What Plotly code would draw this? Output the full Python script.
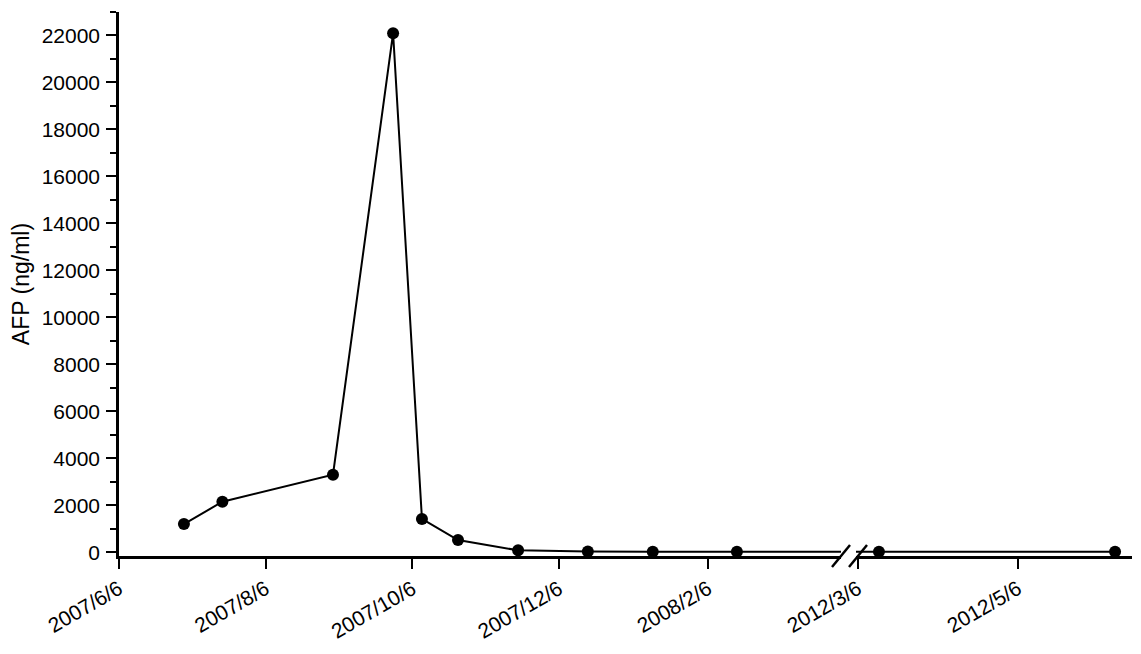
import plotly.graph_objects as go

# Data
dates = ["2007-07-03", "2007-07-19", "2007-09-03", "2007-09-28", "2007-10-10",
         "2007-10-25", "2007-11-19", "2007-12-18", "2008-01-14", "2008-02-18",
         "2012-03-14", "2012-06-12"]
afp = [1200, 2150, 3300, 22100, 1420, 520, 80, 30, 20, 25, 20, 20]

seg1_tickvals = ["2007-06-06", "2007-08-06", "2007-10-06", "2007-12-06", "2008-02-06"]
seg1_ticktext = ["2007/6/6", "2007/8/6", "2007/10/6", "2007/12/6", "2008/2/6"]
seg2_tickvals = ["2012-03-06", "2012-05-06"]
seg2_ticktext = ["2012/3/6", "2012/5/6"]
y_tickvals = list(range(0, 22001, 2000))
y_ticktext = [str(v) for v in y_tickvals]

FONT = "Arial, 'Liberation Sans', sans-serif"
# page has an 8px body margin; compensate so the plot area lands at
# page x 119..1132, y 12..556
OFF = 8
W, H = 1141 - OFF, 654 - OFF
L, R, T, B = 119 - OFF, 9, 12 - OFF, 98
plot_w = W - L - R
plot_h = H - T - B
PLOT_LEFT = 119   # page px
PLOT_BOTTOM = 556  # page px


def px_to_paper(px):
    return (px - PLOT_LEFT) / plot_w


def py_to_paper(py):
    return (PLOT_BOTTOM - py) / plot_h


d1_end = px_to_paper(841)
d2_start = px_to_paper(856)

line = dict(color="black", width=2)
marker = dict(color="black", size=12)

fig = go.Figure()
fig.add_trace(go.Scatter(x=dates, y=afp, mode="lines+markers", line=line,
                         marker=marker, xaxis="x", yaxis="y", showlegend=False))
fig.add_trace(go.Scatter(x=dates, y=afp, mode="lines+markers", line=line,
                         marker=marker, xaxis="x2", yaxis="y", showlegend=False))

axis_common = dict(
    type="date", showline=True, linecolor="black", linewidth=2.5,
    ticks="outside", ticklen=10, tickwidth=2, tickcolor="black",
    showgrid=False, zeroline=False, tickangle=-30, automargin=False,
    tickfont=dict(family=FONT, size=21, color="black"),
)

fig.update_layout(
    width=W, height=H,
    margin=dict(l=L, r=R, t=T, b=B),
    paper_bgcolor="white", plot_bgcolor="white",
    xaxis=dict(domain=[0, d1_end], range=["2007-06-06", "2008-04-01 07:00"],
               tickmode="array", tickvals=seg1_tickvals, ticktext=seg1_ticktext,
               anchor="y", **axis_common),
    xaxis2=dict(domain=[d2_start, 1], range=["2012-03-05 06:00", "2012-06-18 11:00"],
                tickmode="array", tickvals=seg2_tickvals, ticktext=seg2_ticktext,
                anchor="y", **axis_common),
    yaxis=dict(
        range=[-160, 23000], anchor="x", automargin=False,
        showline=True, linecolor="black", linewidth=2.5,
        ticks="outside", ticklen=10, tickwidth=2, tickcolor="black",
        tickmode="array", tickvals=y_tickvals, ticktext=y_ticktext,
        minor=dict(dtick=1000, tick0=0, ticks="outside", ticklen=6,
                   tickwidth=2, tickcolor="black", showgrid=False),
        showgrid=False, zeroline=False,
        tickfont=dict(family=FONT, size=21, color="black"),
        ticklabelstandoff=2,
        title=dict(text="AFP (ng/ml)", font=dict(family=FONT, size=23, color="black"),
                   standoff=14),
    ),
)

# axis break marks
for x0, x1 in [(832, 850), (849, 867)]:
    fig.add_shape(type="line", xref="paper", yref="paper",
                  x0=px_to_paper(x0), x1=px_to_paper(x1),
                  y0=py_to_paper(567), y1=py_to_paper(545),
                  line=dict(color="black", width=2.5))

fig.write_html("out.html")
